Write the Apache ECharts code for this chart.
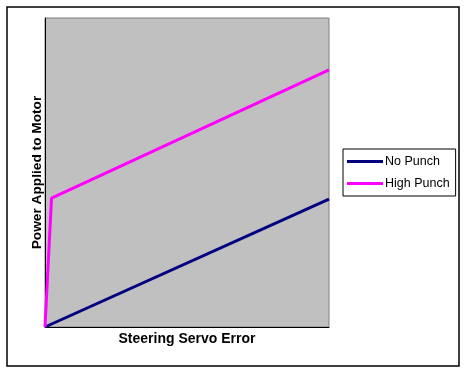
<!DOCTYPE html>
<html><head><meta charset="utf-8">
<script src="https://cdn.jsdelivr.net/npm/echarts@6/dist/echarts.min.js"></script>
<style>html,body{margin:0;padding:0;background:#fff}#c{width:467px;height:373px}</style>
</head><body><div id="c"></div>
<script>
const seriesNames = ['No Punch', 'High Punch'];
const noPunch = [[0, 0], [100, 41.4]];
const highPunch = [[0, 0], [2.3, 41.7], [100, 83.2]];
const xTitle = 'Steering Servo Error';
const yTitle = 'Power Applied to Motor';

const chart = echarts.init(document.getElementById('c'));
chart.setOption({
  animation: false,
  textStyle: { fontFamily: 'Liberation Sans, Arial, sans-serif' },
  graphic: [{
    type: 'rect', silent: true, z: -10,
    shape: { x: 7, y: 7, width: 452, height: 359 },
    style: { fill: 'none', stroke: '#000', lineWidth: 1.5 }
  }],
  grid: {
    left: 45, top: 18, right: 138, bottom: 46,
    show: true, backgroundColor: '#c0c0c0', borderColor: '#808080', borderWidth: 1
  },
  legend: {
    orient: 'vertical', left: 343, top: 149,
    data: seriesNames.map(n => ({ name: n, icon: 'rect' })),
    itemWidth: 36, itemHeight: 3, itemGap: 9,
    borderColor: '#000', borderWidth: 1,
    padding: [6, 6, 6, 4],
    textStyle: { fontSize: 12.5, color: '#000', padding: [0, 0, 0, -3] }
  },
  xAxis: {
    type: 'value', min: 0, max: 100,
    name: xTitle, nameLocation: 'middle', nameGap: 5,
    nameTextStyle: { fontSize: 14, fontWeight: 'bold', color: '#000' },
    axisLine: { show: true, lineStyle: { color: '#000', width: 1 } },
    axisTick: { show: false }, axisLabel: { show: false }, splitLine: { show: false }
  },
  yAxis: {
    type: 'value', min: 0, max: 100,
    name: yTitle, nameLocation: 'middle', nameGap: 1,
    nameTextStyle: { fontSize: 13.7, fontWeight: 'bold', color: '#000' },
    axisLine: { show: true, lineStyle: { color: '#000', width: 1 } },
    axisTick: { show: false }, axisLabel: { show: false }, splitLine: { show: false }
  },
  series: [
    { name: seriesNames[0], type: 'line', data: noPunch, symbol: 'none',
      lineStyle: { width: 3, color: '#000080' }, itemStyle: { color: '#000080' } },
    { name: seriesNames[1], type: 'line', data: highPunch, symbol: 'none',
      lineStyle: { width: 3, color: '#ff00ff' }, itemStyle: { color: '#ff00ff' } }
  ]
});
</script></body></html>
